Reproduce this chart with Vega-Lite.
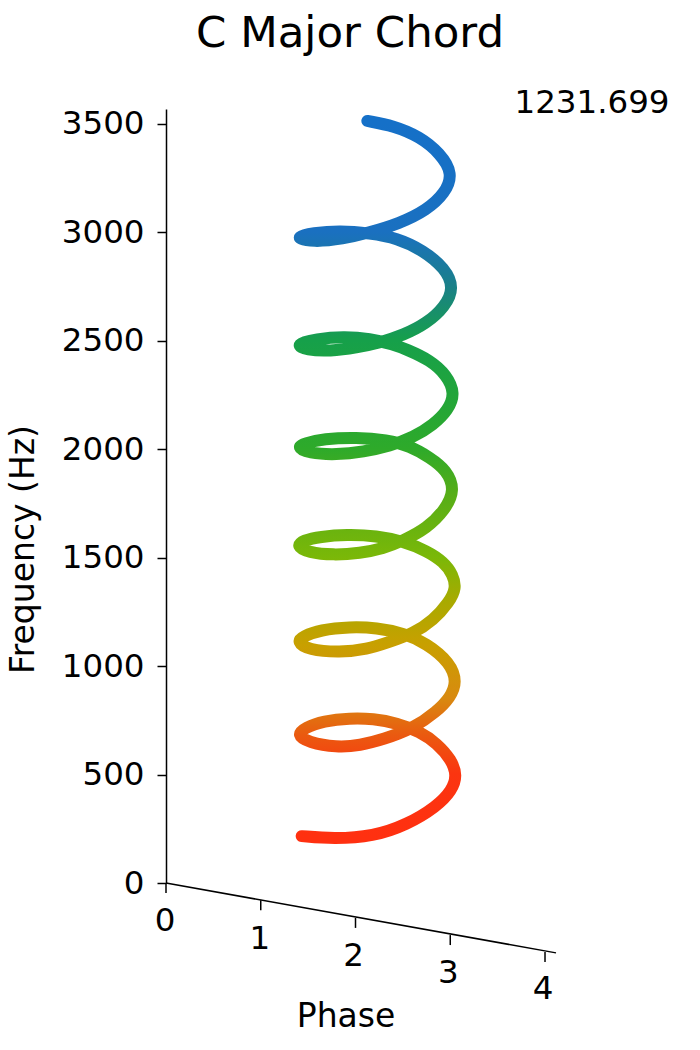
{"$schema":"https://vega.github.io/schema/vega-lite/v6.json","width":390,"height":774,"autosize":{"type":"none"},"padding":{"left":166,"top":109,"right":144,"bottom":167},"background":"white","config":{"view":{"stroke":null},"font":"DejaVu Sans"},"title":{"text":"C Major Chord","fontSize":43.5,"fontWeight":"normal","font":"DejaVu Sans","color":"#000","anchor":"middle","frame":"group","dx":-11,"offset":31},"encoding":{"x":{"field":"phase","type":"quantitative","scale":{"domain":[0,4.116],"nice":false,"zero":false},"axis":null},"y":{"field":"freq","type":"quantitative","scale":{"domain":[0,3567],"nice":false,"zero":false},"axis":{"values":[0,500,1000,1500,2000,2500,3000,3500],"format":"d","title":"Frequency (Hz)","grid":false,"labelFontSize":32.5,"titleFontSize":33,"titleFontWeight":"normal","labelColor":"#000","titleColor":"#000","domainColor":"#000","tickColor":"#000","domainWidth":1.5,"tickWidth":1.5,"tickSize":9,"labelPadding":13,"labelFont":"DejaVu Sans","titleFont":"DejaVu Sans","titleX":-126,"titleY":440}}},"layer":[{"data":{"values":[{"i":1,"phase":1.432,"freq":216},{"i":2,"phase":1.766,"freq":203},{"i":3,"phase":2.188,"freq":215},{"i":4,"phase":2.54,"freq":268},{"i":5,"phase":2.857,"freq":352},{"i":6,"phase":3.02,"freq":428},{"i":7,"phase":3.07,"freq":495},{"i":8,"phase":3.015,"freq":567},{"i":9,"phase":2.857,"freq":644},{"i":10,"phase":2.681,"freq":697},{"i":11,"phase":2.435,"freq":738},{"i":12,"phase":2.188,"freq":757},{"i":13,"phase":1.942,"freq":760},{"i":14,"phase":1.661,"freq":746},{"i":15,"phase":1.467,"freq":716},{"i":16,"phase":1.38,"freq":682},{"i":17,"phase":1.502,"freq":648},{"i":18,"phase":1.801,"freq":625},{"i":19,"phase":2.048,"freq":634},{"i":20,"phase":2.294,"freq":662},{"i":21,"phase":2.61,"freq":713},{"i":22,"phase":2.857,"freq":790},{"i":23,"phase":3.0,"freq":855},{"i":24,"phase":3.07,"freq":925},{"i":25,"phase":3.0,"freq":1015},{"i":26,"phase":2.751,"freq":1104},{"i":27,"phase":2.505,"freq":1152},{"i":28,"phase":2.223,"freq":1176},{"i":29,"phase":1.942,"freq":1181},{"i":30,"phase":1.625,"freq":1166},{"i":31,"phase":1.449,"freq":1137},{"i":32,"phase":1.38,"freq":1112},{"i":33,"phase":1.502,"freq":1074},{"i":34,"phase":1.836,"freq":1063},{"i":35,"phase":2.118,"freq":1076},{"i":36,"phase":2.364,"freq":1112},{"i":37,"phase":2.61,"freq":1150},{"i":38,"phase":2.821,"freq":1210},{"i":39,"phase":2.99,"freq":1295},{"i":40,"phase":3.062,"freq":1358},{"i":41,"phase":3.03,"freq":1420},{"i":42,"phase":2.93,"freq":1480},{"i":43,"phase":2.751,"freq":1531},{"i":44,"phase":2.505,"freq":1574},{"i":45,"phase":2.223,"freq":1600},{"i":46,"phase":1.907,"freq":1606},{"i":47,"phase":1.625,"freq":1596},{"i":48,"phase":1.449,"freq":1579},{"i":49,"phase":1.375,"freq":1553},{"i":50,"phase":1.502,"freq":1523},{"i":51,"phase":1.766,"freq":1511},{"i":52,"phase":2.048,"freq":1520},{"i":53,"phase":2.294,"freq":1542},{"i":54,"phase":2.505,"freq":1578},{"i":55,"phase":2.751,"freq":1634},{"i":56,"phase":2.945,"freq":1719},{"i":57,"phase":3.05,"freq":1811},{"i":58,"phase":2.962,"freq":1903},{"i":59,"phase":2.786,"freq":1961},{"i":60,"phase":2.575,"freq":2014},{"i":61,"phase":2.329,"freq":2042},{"i":62,"phase":2.012,"freq":2054},{"i":63,"phase":1.661,"freq":2047},{"i":64,"phase":1.467,"freq":2027},{"i":65,"phase":1.38,"freq":2008},{"i":66,"phase":1.502,"freq":1981},{"i":67,"phase":1.801,"freq":1973},{"i":68,"phase":2.083,"freq":1987},{"i":69,"phase":2.364,"freq":2014},{"i":70,"phase":2.61,"freq":2054},{"i":71,"phase":2.821,"freq":2111},{"i":72,"phase":2.98,"freq":2180},{"i":73,"phase":3.05,"freq":2257},{"i":74,"phase":2.962,"freq":2341},{"i":75,"phase":2.786,"freq":2410},{"i":76,"phase":2.54,"freq":2459},{"i":77,"phase":2.399,"freq":2482},{"i":78,"phase":2.153,"freq":2509},{"i":79,"phase":1.872,"freq":2518},{"i":80,"phase":1.59,"freq":2507},{"i":81,"phase":1.355,"freq":2482},{"i":82,"phase":1.485,"freq":2456},{"i":83,"phase":1.731,"freq":2451},{"i":84,"phase":2.012,"freq":2467},{"i":85,"phase":2.259,"freq":2490},{"i":86,"phase":2.505,"freq":2525},{"i":87,"phase":2.751,"freq":2579},{"i":88,"phase":2.945,"freq":2656},{"i":89,"phase":3.04,"freq":2743},{"i":90,"phase":2.945,"freq":2833},{"i":91,"phase":2.716,"freq":2915},{"i":92,"phase":2.435,"freq":2973},{"i":93,"phase":2.153,"freq":2994},{"i":94,"phase":1.836,"freq":3007},{"i":95,"phase":1.555,"freq":2996},{"i":96,"phase":1.34,"freq":2975},{"i":97,"phase":1.555,"freq":2953},{"i":98,"phase":1.872,"freq":2969},{"i":99,"phase":2.118,"freq":2994},{"i":100,"phase":2.47,"freq":3040},{"i":101,"phase":2.751,"freq":3101},{"i":102,"phase":2.945,"freq":3178},{"i":103,"phase":3.03,"freq":3270},{"i":104,"phase":2.892,"freq":3363},{"i":105,"phase":2.681,"freq":3439},{"i":106,"phase":2.399,"freq":3490},{"i":107,"phase":2.125,"freq":3512}]},"mark":{"type":"line","interpolate":"basis","strokeWidth":12,"strokeCap":"round","strokeJoin":"round","color":{"gradient":"linear","x1":0,"y1":1,"x2":0,"y2":0,"stops":[{"offset":0,"color":"#ff3010"},{"offset":0.09,"color":"#fb3510"},{"offset":0.144,"color":"#ea5a10"},{"offset":0.195,"color":"#d88a10"},{"offset":0.27,"color":"#c8a000"},{"offset":0.331,"color":"#a8aa00"},{"offset":0.392,"color":"#7ab808"},{"offset":0.482,"color":"#55ad18"},{"offset":0.543,"color":"#2eaa2a"},{"offset":0.694,"color":"#16a04a"},{"offset":0.77,"color":"#1a8088"},{"offset":0.845,"color":"#1a70c0"},{"offset":1,"color":"#1570c8"}]}},"encoding":{"order":{"field":"i","type":"quantitative"}}},{"data":{"values":[{"phase":0,"freq":0},{"phase":4.116,"freq":-322}]},"mark":{"type":"line","color":"#000","strokeWidth":1.5},"encoding":{}},{"data":{"values":[{"phase":0,"freq":0,"low":-46},{"phase":1,"freq":-80,"low":-126},{"phase":2,"freq":-161,"low":-207},{"phase":3,"freq":-240,"low":-286},{"phase":4,"freq":-318,"low":-364}]},"mark":{"type":"rule","color":"#000","strokeWidth":1.5},"encoding":{"y2":{"field":"low"}}},{"data":{"values":[{"phase":-0.01,"freq":-175,"label":"0"},{"phase":0.99,"freq":-258,"label":"1"},{"phase":1.98,"freq":-336,"label":"2"},{"phase":2.98,"freq":-415,"label":"3"},{"phase":3.98,"freq":-488,"label":"4"}]},"mark":{"type":"text","fontSize":32.5,"font":"DejaVu Sans","color":"#000","baseline":"middle","align":"center"},"encoding":{"text":{"field":"label"}}},{"data":{"values":[{"phase":1.9,"freq":-617,"label":"Phase"}]},"mark":{"type":"text","fontSize":33,"font":"DejaVu Sans","color":"#000","baseline":"middle","align":"center"},"encoding":{"text":{"field":"label"}}},{"data":{"values":[{"phase":4.496,"freq":3594,"label":"1231.699"}]},"mark":{"type":"text","fontSize":32.5,"font":"DejaVu Sans","color":"#000","baseline":"middle","align":"center"},"encoding":{"text":{"field":"label"}}}]}
